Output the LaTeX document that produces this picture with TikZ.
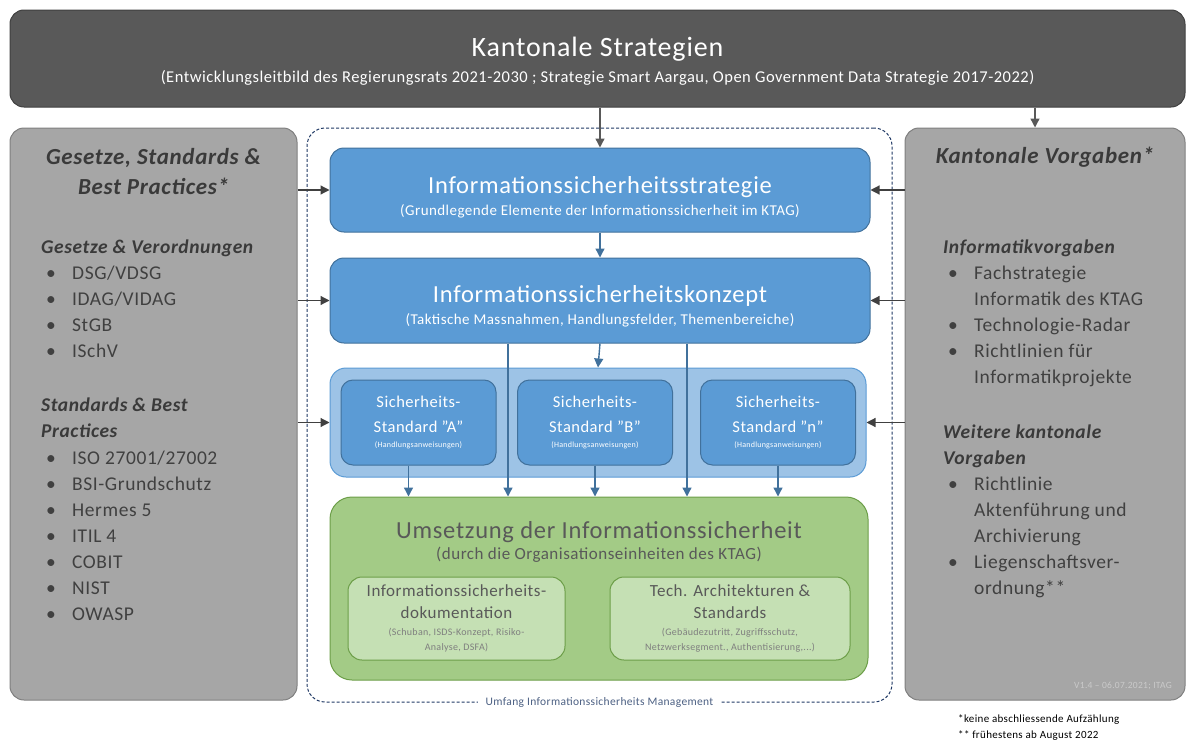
\documentclass[tikz,border=0pt]{standalone}
\usepackage{fontspec}
\setmainfont{Carlito}[LetterSpace=3]
\usetikzlibrary{arrows.meta,positioning}

\definecolor{darkfill}{HTML}{595959}
\definecolor{darkline}{HTML}{404040}
\definecolor{sidefill}{HTML}{A6A6A6}
\definecolor{sideline}{HTML}{7F7F7F}
\definecolor{headgray}{HTML}{3A3A3A}
\definecolor{bodygray}{HTML}{404040}
\definecolor{isblue}{HTML}{5B9BD5}
\definecolor{isline}{HTML}{41719C}
\definecolor{stdlight}{HTML}{9DC3E6}
\definecolor{isgreen}{HTML}{A3CB86}
\definecolor{greenline}{HTML}{6C9E48}
\definecolor{greenlight}{HTML}{C5E0B4}
\definecolor{greentext}{HTML}{595959}
\definecolor{greensmall}{HTML}{7F7F7F}
\definecolor{ismsline}{HTML}{1F3864}

\newcommand{\itembul}{\makebox[26pt][l]{\textbullet}}
\newcommand{\itemcont}{\hspace*{26pt}}

\tikzset{
  box/.style={rounded corners=14pt, line width=1pt, inner sep=0pt, align=center},
  topbox/.style={box, fill=darkfill, draw=darkline, text=white},
  sidebox/.style={box, fill=sidefill, draw=sideline},
  bluebox/.style={box, fill=isblue, draw=isline, text=white},
  stdouter/.style={box, rounded corners=16pt, fill=stdlight, draw=isblue},
  stdbox/.style={bluebox, rounded corners=12pt, minimum width=155, minimum height=85,
    font=\fontsize{16.5}{25}\selectfont},
  greenbox/.style={box, rounded corners=22pt, fill=isgreen, draw=greenline},
  greeninner/.style={box, rounded corners=14pt, fill=greenlight, draw=greenline, text=greentext,
    font=\fontsize{17}{22}\selectfont},
  isms/.style={rounded corners=18pt, draw=ismsline, densely dashed, line width=1pt},
  sidehead/.style={inner sep=0pt, align=center, text=headgray,
    font=\fontsize{23}{30}\selectfont\bfseries\itshape},
  subhead/.style={inner sep=0pt, anchor=mid west, text=headgray,
    font=\fontsize{19.5}{26}\selectfont\bfseries\itshape},
  li/.style={inner sep=0pt, anchor=mid west, text=bodygray,
    font=\fontsize{19.5}{26}\selectfont},
  grayarr/.style={-{Triangle[length=9pt,width=9pt]}, line width=1.4pt, darkfill},
  sidearr/.style={-{Triangle[length=9pt,width=9pt]}, line width=1.2pt, darkline},
  bluearr/.style={-{Triangle[length=9pt,width=9pt]}, line width=1.4pt, isline}
}

\begin{document}
\begin{tikzpicture}[x=1pt,y=-1pt]
\useasboundingbox (0,0) rectangle (1187,744);

%% ISMS frame
\node[isms, minimum width=585, minimum height=574] (isms) at (599.5,415) {};
\node[fill=white, inner xsep=8pt, inner ysep=2pt, text=ismsline!80!white,
  font=\fontsize{11.5}{13}\selectfont] (ismstext) at (isms.south)
  {Umfang Informationssicherheits Management};

%% top
\node[topbox, minimum width=1175, minimum height=97] (kstrat) at (597.5,58.5)
  {\rule{0pt}{25pt}{\fontsize{28}{30}\selectfont Kantonale Strategien}\\[8pt]
   {\fontsize{16.5}{18}\selectfont (Entwicklungsleitbild des Regierungsrats 2021-2030 ; Strategie Smart Aargau, Open Government Data Strategie 2017-2022)}};

%% left and right
\node[sidebox, minimum width=287, minimum height=572] (lbox) at (153.5,414) {};
\node[sidebox, minimum width=280, minimum height=572] (rbox) at (1045,414) {};

\node[sidehead] (lhead) at (153.5,172) {Gesetze, Standards \&\\Best Practices*};
\node[sidehead] (rhead) at (1045,157) {Kantonale Vorgaben*};

%% Gesetze
\node[subhead] (lgv) at (41,251) {Gesetze \& Verordnungen};
\foreach \t [count=\i] in {{DSG/VDSG},{IDAG/VIDAG},StGB,ISchV}
  \node[li] (lgv\i) at (46,251+26*\i) {\itembul\t};
\node[subhead] (lsb) at (41,409) {Standards \& Best};
\node[subhead] (lsbp) at (41,435) {Practices};
\foreach \t [count=\i] in {{ISO 27001/27002},BSI-Grundschutz,Hermes 5,ITIL 4,COBIT,NIST,OWASP}
  \node[li] (lsb\i) at (46,436+26*\i) {\itembul\t};

%% Vorgaben
\node[subhead] (rif) at (943,251) {Informatikvorgaben};
\foreach \y/\m/\t in {277/\itembul/Fachstrategie, 303/\itemcont/Informatik des KTAG,
    329/\itembul/Technologie-Radar, 355/\itembul/Richtlinien für, 381/\itemcont/Informatikprojekte}
  \node[li] (rif\y) at (948,\y) {\m\t};
\node[subhead] (rwk) at (943,436) {Weitere kantonale};
\node[subhead] (rwkv) at (943,462) {Vorgaben};
\foreach \y/\m/\t in {488/\itembul/Richtlinie, 514/\itemcont/Aktenführung und,
    540/\itemcont/Archivierung, 566/\itembul/Liegenschaftsver-, 592/\itemcont/ordnung**}
  \node[li] (rwk\y) at (948,\y) {\m\t};

\node[anchor=mid east, inner sep=0pt, text=sidefill!60!white,
  font=\fontsize{9.5}{11}\selectfont] (vers) at (1172,686) {V1.4 -- 06.07.2021; ITAG};

%% footnotes
\node[anchor=mid west, inner sep=0pt, font=\fontsize{11}{13}\selectfont] (fn1) at (958,720)
  {*keine abschliessende Aufzählung};
\node[anchor=mid west, inner sep=0pt, font=\fontsize{11}{13}\selectfont] (fn2) at (958,736)
  {** frühestens ab August 2022};

%% blue boxes
\node[bluebox, minimum width=540, minimum height=84] (strat) at (600,190)
  {\rule{0pt}{31pt}{\fontsize{24.5}{28}\selectfont Informationssicherheitsstrategie}\\[6pt]
   {\fontsize{15}{16}\selectfont (Grundlegende Elemente der Informationssicherheit im KTAG)}};
\node[bluebox, minimum width=540, minimum height=85] (konz) at (600,300.5)
  {\rule{0pt}{28pt}{\fontsize{24.5}{28}\selectfont Informationssicherheitskonzept}\\[6pt]
   {\fontsize{15}{16}\selectfont (Taktische Massnahmen, Handlungsfelder, Themenbereiche)}};
\node[stdouter, minimum width=536, minimum height=109] (stdall) at (598,422.5) {};
\node[stdbox] (stdA) at (418.5,422.5)
  {Sicherheits-\\Standard "A"\\[-10pt]{\fontsize{8}{9}\selectfont (Handlungsanweisungen)}};
\node[stdbox] (stdB) at (595,422.5)
  {Sicherheits-\\Standard "B"\\[-10pt]{\fontsize{8}{9}\selectfont (Handlungsanweisungen)}};
\node[stdbox] (stdN) at (778,422.5)
  {Sicherheits-\\Standard "n"\\[-10pt]{\fontsize{8}{9}\selectfont (Handlungsanweisungen)}};

%% green
\node[greenbox, minimum width=538, minimum height=183] (umsetz) at (599,588.5) {};
\node[anchor=mid, inner sep=0pt, text=greentext, font=\fontsize{24.5}{28}\selectfont]
  (umsetzt) at (599,536) {Umsetzung der Informationssicherheit};
\node[anchor=mid, inner sep=0pt, text=greentext, font=\fontsize{17}{18}\selectfont]
  (umsetzs) at (599,557) {(durch die Organisationseinheiten des KTAG)};
\node[greeninner, minimum width=217, minimum height=83] (doku) at (456.5,618.5)
  {Informationssicherheits-\\dokumentation\\[-5.5pt]
   {\fontsize{10}{15}\selectfont\color{greensmall}(Schuban, ISDS-Konzept, Risiko-}\\[-7pt]
   {\fontsize{10}{15}\selectfont\color{greensmall}Analyse, DSFA)}};
\node[greeninner, minimum width=240, minimum height=83] (tech) at (730,618.5)
  {Tech. Architekturen \&\\Standards\\[-5.5pt]
   {\fontsize{10}{15}\selectfont\color{greensmall}(Gebäudezutritt, Zugriffsschutz,}\\[-7pt]
   {\fontsize{10}{15}\selectfont\color{greensmall}Netzwerksegment., Authentisierung,...)}};

%% connectors
\coordinate (rin) at ([xshift=-10pt]rbox.north);
\draw[grayarr] (kstrat.south -| strat.north) -- (strat.north);
\draw[grayarr] (kstrat.south -| rin) -- (rin);
\foreach \n in {strat,konz,stdall}{
  \draw[sidearr] (lbox.east |- \n.west) -- (\n.west);
  \draw[sidearr] (rbox.west |- \n.east) -- (\n.east);
}
\draw[bluearr] (strat.south) -- (konz.north);
\draw[bluearr] (konz.south) -- (stdall.north);
\coordinate (kl) at ([xshift=-92pt]konz.south);
\coordinate (kr) at ([xshift=87pt]konz.south);
\draw[bluearr] (kl) -- (kl |- umsetz.north);
\draw[bluearr] (kr) -- (kr |- umsetz.north);
\foreach \s/\d in {stdA/-10,stdB/0,stdN/0}
  \draw[bluearr] ([xshift=\d pt]\s.south) -- ([xshift=\d pt]\s.south |- umsetz.north);
\end{tikzpicture}
\end{document}
